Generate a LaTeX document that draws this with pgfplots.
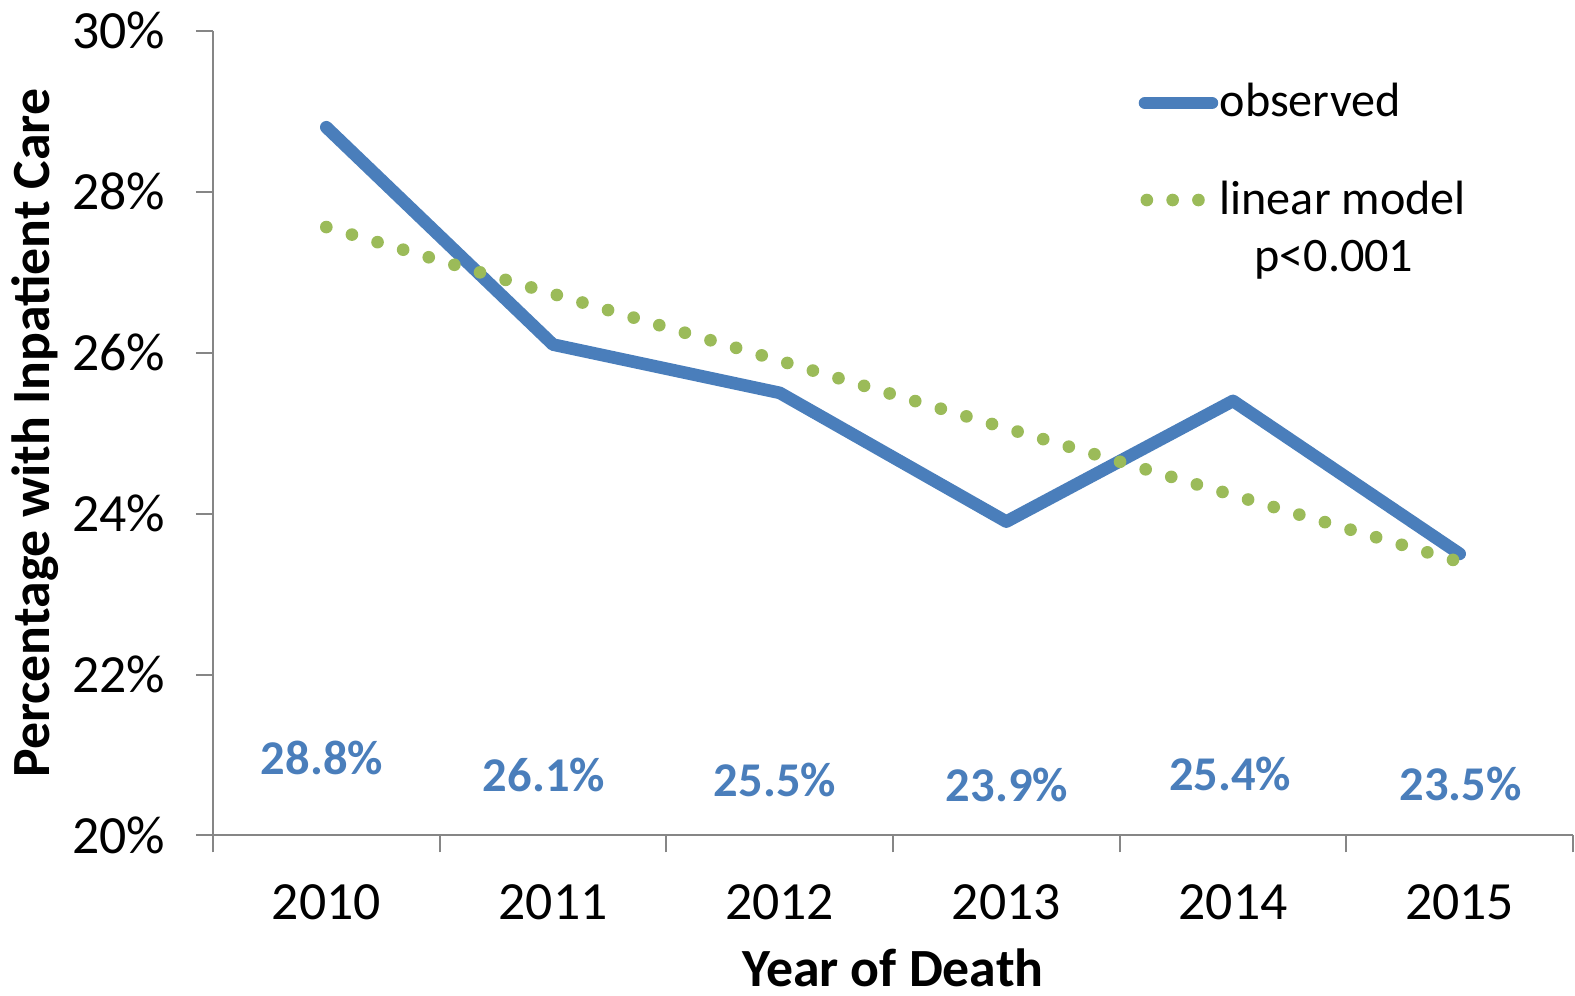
\documentclass[border=0pt]{standalone}
\usepackage{fontspec}
\setmainfont{Carlito}
\usepackage{pgfplots}
\pgfplotsset{compat=1.18}
\usetikzlibrary{calc}
\definecolor{obsblue}{HTML}{4A7EBB}
\definecolor{lingreen}{HTML}{9BBB59}
\definecolor{axgray}{HTML}{868686}
\begin{document}
\begin{tikzpicture}
\begin{axis}[
  name=ax,
  scale only axis,
  width=136mm, height=80.48mm,
  xmin=-0.5, xmax=5.5, ymin=20, ymax=30,
  clip=false,
  axis lines*=left,
  axis line style={axgray, line width=0.2mm},
  tick align=outside,
  major tick length=1.7mm,
  tick style={axgray, line width=0.2mm},
  xtick={-0.5,0.5,...,5.5},
  xticklabels={,,,,,,},
  extra x ticks={0,1,2,3,4,5},
  extra x tick labels={2010,2011,2012,2013,2014,2015},
  extra x tick style={major tick length=0pt, tick style={draw=none}},
  xticklabel style={anchor=north, inner sep=0pt, yshift=-4.85mm, font=\fontsize{15.3}{18}\selectfont},
  ytick={20,22,24,26,28,30},
  yticklabels={20\%,22\%,24\%,26\%,28\%,30\%},
  yticklabel style={anchor=east, inner sep=0pt, xshift=-3.0mm, font=\fontsize{15.3}{18}\selectfont},
  xlabel={Year of Death},
  xlabel style={at={(axis description cs:0.5,-0.1879)}, anchor=base, inner sep=0pt, font=\bfseries\fontsize{15.3}{18}\selectfont},
  ylabel={Percentage with Inpatient Care},
  ylabel style={at={(axis description cs:-0.1199,0.5)}, anchor=base, inner sep=0pt, font=\bfseries\fontsize{15.3}{18}\selectfont},
]
% observed
\addplot[obsblue, line width=3.6pt, line join=round, line cap=round] coordinates {
  (0,28.8) (1,26.1) (2,25.5) (3,23.9) (4,25.4) (5,23.5)
};
% linear model
\addplot[lingreen, line width=3.6pt, line cap=round, dash pattern=on 0pt off 2.67mm] coordinates {
  (0,27.56) (1,26.73) (2,25.90) (3,25.06) (4,24.23) (5,23.40)
};
% data labels
\begin{scope}[every node/.style={anchor=base, inner sep=0pt, text=obsblue, font=\bfseries\fontsize{13.8}{16}\selectfont}]
\node at (axis cs:-0.019,20.764) {28.8\%};
\node at (axis cs:0.960,20.544) {26.1\%};
\node at (axis cs:1.979,20.49) {25.5\%};
\node at (axis cs:3.003,20.42) {23.9\%};
\node at (axis cs:3.987,20.557) {25.4\%};
\node at (axis cs:5.004,20.44) {23.5\%};
\end{scope}
% legend
\draw[obsblue, line width=3.6pt, line cap=round] (axis cs:3.612,29.102) -- (axis cs:3.907,29.102);
\node[anchor=base west, inner sep=0pt, font=\fontsize{13.7}{16}\selectfont] at (axis cs:3.938,28.931) {observed};
\draw[lingreen, line width=3.6pt, line cap=round, dash pattern=on 0pt off 2.58mm] (axis cs:3.620,27.896) -- (axis cs:3.850,27.896);
\node[anchor=base west, inner sep=0pt, font=\fontsize{13.7}{16}\selectfont] at (axis cs:3.938,27.722) {linear model};
\node[anchor=base, inner sep=0pt, font=\fontsize{13.7}{16}\selectfont] at (axis cs:4.445,27.006) {p<0.001};
\end{axis}
\pgfresetboundingbox
\path ($(ax.south west)+(-21.3mm,-16.05mm)$) rectangle ($(ax.north east)+(0.2mm,3.07mm)$);
\end{tikzpicture}
\end{document}
